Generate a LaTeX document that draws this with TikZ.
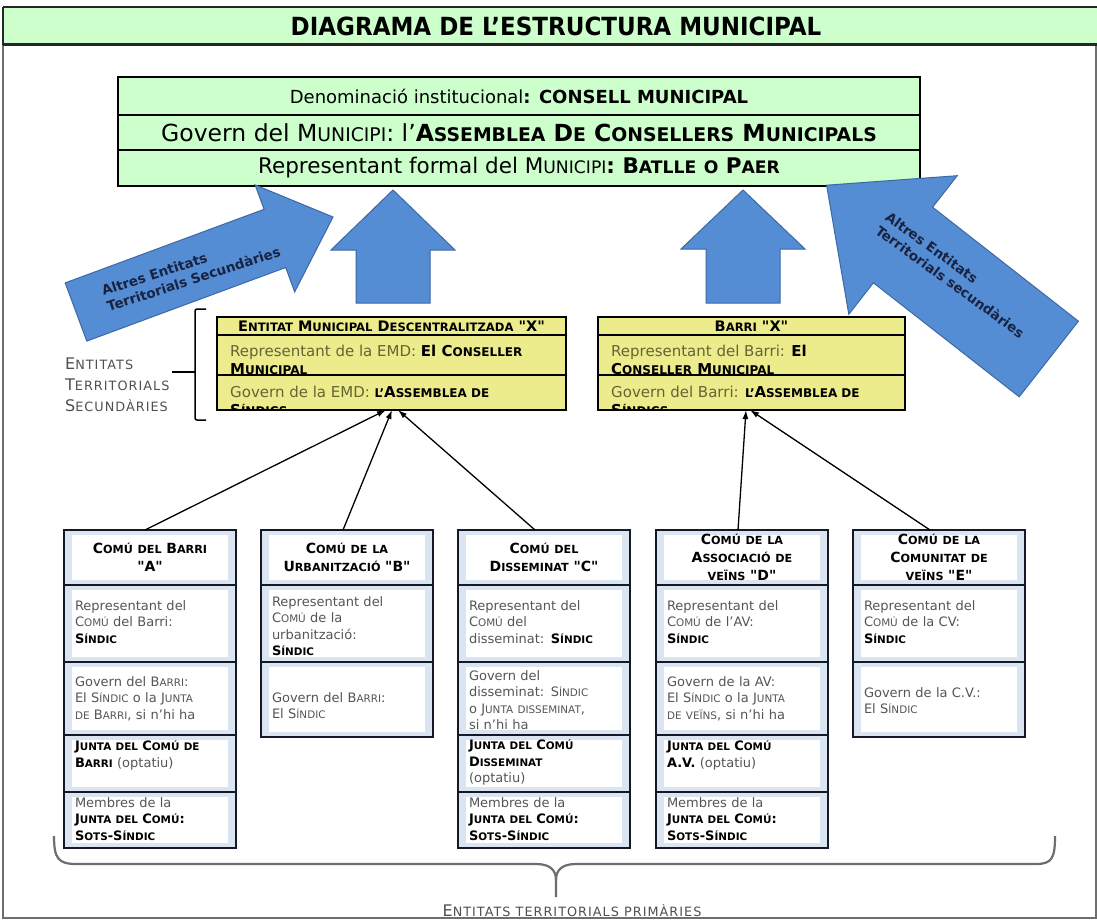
\documentclass[tikz,border=0pt]{standalone}
\usepackage{fontspec}
\setmainfont{DejaVu Sans}[Ligatures=TeXOff]
\newfontfamily\titlefont[FakeStretch=0.92]{DejaVu Sans}
\newfontfamily\widesc[LetterSpace=8]{DejaVu Sans}
\usetikzlibrary{arrows.meta}

% fake small capitals: \smc{ABC} sets capitals at 80% of the current size,
% \SC{WORD} keeps the first letter full size
\makeatletter
\newdimen\scdim
\newcommand\smc[1]{{\scdim=\f@size pt\relax\scdim=0.8\scdim
  \fontsize{\strip@pt\scdim}{\f@baselineskip}\selectfont #1}}
\def\SC#1{\sc@word#1\relax}
\def\sc@word#1#2\relax{#1\smc{#2}}
\makeatother
\newcommand\bsc[1]{\textbf{\color{black}#1}}

\definecolor{hdrgreen}{RGB}{204,255,204}
\definecolor{boxgreen}{RGB}{204,255,204}
\definecolor{arrowblue}{RGB}{84,141,212}
\definecolor{arrowedge}{RGB}{60,104,165}
\definecolor{ebox}{RGB}{236,236,140}
\definecolor{etext}{RGB}{100,100,55}
\definecolor{cellbg}{RGB}{219,229,241}
\definecolor{cellborder}{RGB}{20,25,40}
\definecolor{celltext}{RGB}{85,85,85}
\definecolor{navy}{RGB}{25,35,65}
\definecolor{labelgray}{RGB}{80,80,80}
\definecolor{framegray}{RGB}{110,110,110}

% one table cell of a primary entity column:
% #1 name, #2 left x, #3 top y, #4 bottom y, #5 text offset, #6 text style, #7 text
\newcommand\ccell[7]{%
  \node[cellframe, minimum height={(#4-#3)*1pt}, anchor=north west] (#1) at (#2,#3) {};
  \fill[white] ([xshift=8pt,yshift=-5pt]#1.north west) rectangle ([xshift=-8pt,yshift=5pt]#1.south east);
  \begin{scope}
    \clip ([xshift=1pt,yshift=-1pt]#1.north west) rectangle ([xshift=-1pt,yshift=1pt]#1.south east);
    \node[#6] (#1-t) at ([yshift=-#5pt]#1.north) {#7};
  \end{scope}
  \draw[cellline] (#1.north west) rectangle (#1.south east);}

\begin{document}
\begin{tikzpicture}[x=1pt,y=-1pt,
  greenrow/.style={draw=black, line width=1.5pt, fill=boxgreen, minimum width=802pt, inner sep=0pt, outer sep=0pt},
  yrow/.style={draw=black, line width=1.5pt, fill=ebox, inner sep=0pt, outer sep=0pt, anchor=north west},
  ytext/.style={anchor=north west, align=left, inner sep=0pt, font=\fontsize{15}{18}\selectfont, text=etext},
  yhead/.style={font=\bfseries\fontsize{14.5}{16}\selectfont},
  cellframe/.style={fill=cellbg, minimum width=172pt, inner sep=0pt, outer sep=0pt},
  cellline/.style={line width=1.6pt, draw=cellborder},
  chead/.style={anchor=center, text width=162pt, align=center, font=\bfseries\fontsize{14}{18}\selectfont, text=black, inner sep=0pt},
  cbody/.style={anchor=north, text width=150pt, align=left, font=\fontsize{13}{16.5}\selectfont, text=celltext, inner sep=0pt},
  conn/.style={line width=1.3pt, -{Latex[length=9pt,width=6pt]}},
  bluearrow/.style={fill=arrowblue, draw=arrowedge, line width=1pt, line join=miter},
  arrowtext/.style={font=\bfseries\fontsize{13.5}{17}\selectfont, text=navy, align=left, inner sep=0pt},
  sclabel/.style={font=\widesc\fontsize{16}{21}\selectfont, text=labelgray, align=left, inner sep=0pt},
]
\useasboundingbox (0,0) rectangle (1097,920);
\fill[white] (0,0) rectangle (1097,920);

% page frame and title bar
\draw[framegray, line width=1.5pt] (3,45) -- (3,918) -- (1096,918) -- (1096,45);
\fill[hdrgreen] (3,7) rectangle (1097,45);
\draw[black!85, line width=2.5pt] (3,7) -- (1097,7);
\draw[black!85, line width=3pt] (3,45) -- (1097,45);
\draw[black!85, line width=1.5pt] (3,7) -- (3,45);
\node[font=\titlefont\bfseries\fontsize{25}{28}\selectfont] (title) at (556,26) {DIAGRAMA DE L’ESTRUCTURA MUNICIPAL};

% municipal council
\node[greenrow, minimum height=38pt] (g1) at (519,96)
  {\fontsize{18}{22}\selectfont Denominació institucional\textbf{: CONSELL MUNICIPAL}};
\node[greenrow, minimum height=35pt] (g2) at (519,132.5)
  {\fontsize{23.5}{27}\selectfont Govern del \SC{MUNICIPI}: l’\textbf{\SC{ASSEMBLEA} \SC{DE} \SC{CONSELLERS} \SC{MUNICIPALS}}};
\node[greenrow, minimum height=36pt] (g3) at (519,168)
  {\fontsize{21.5}{25}\selectfont Representant formal del \SC{MUNICIPI}\textbf{: \SC{BATLLE} \smc{O} \SC{PAER}}};

% block arrows
\filldraw[bluearrow] (65.2,282.9) -- (264.1,209.3) -- (255.1,184.9) -- (333,217)
  -- (294.7,291.9) -- (285.7,267.5) -- (86.8,341.1) -- cycle;
\node[arrowtext, rotate=18] (arL) at (191,271) {Altres Entitats\\Territorials Secundàries};

\filldraw[bluearrow] (393,190) -- (455,250) -- (430,250) -- (430,303) -- (356,303) -- (356,250) -- (331,250) -- cycle;
\filldraw[bluearrow] (743,190) -- (805,249) -- (780,249) -- (780,303) -- (706,303) -- (706,249) -- (681,249) -- cycle;

\filldraw[bluearrow] (826.6,185.2) -- (957.2,175.7) -- (932.6,207.2) -- (1078.4,321.2)
  -- (1019.2,396.8) -- (873.4,282.8) -- (848.8,314.3) -- cycle;
\node[arrowtext, rotate=-36] (arR) at (955,275) {Altres Entitats\\Territorials secundàries};

% secondary entities
\node[yrow, yhead, minimum width=349pt, minimum height=18pt] (eL1) at (217,317)
  {\SC{ENTITAT} \SC{MUNICIPAL} \SC{DESCENTRALITZADA} "X"};
\node[yrow, minimum width=349pt, minimum height=40pt] (eL2) at (217,335) {};
\node[yrow, minimum width=349pt, minimum height=35pt] (eL3) at (217,375) {};
\begin{scope}
  \clip (eL2.north west) rectangle (eL3.south east);
  \node[ytext] (eL2t) at ([xshift=13pt,yshift=-10pt]eL2.north west)
    {Representant de la EMD: \bsc{El \SC{CONSELLER}}\\\bsc{\SC{MUNICIPAL}}};
  \node[ytext] (eL3t) at ([xshift=13pt,yshift=-11pt]eL3.north west)
    {Govern de la EMD: \bsc{\smc{L’}A\smc{SSEMBLEA DE}}\\\bsc{\SC{SÍNDICS}}};
\end{scope}
\draw[black, line width=1.5pt] (eL2.north west) rectangle (eL3.south east);
\draw[black, line width=1.5pt] (eL3.north west) -- (eL3.north east);

\node[yrow, yhead, minimum width=307pt, minimum height=18pt] (eR1) at (598,317)
  {\SC{BARRI} "X"};
\node[yrow, minimum width=307pt, minimum height=40pt] (eR2) at (598,335) {};
\node[yrow, minimum width=307pt, minimum height=35pt] (eR3) at (598,375) {};
\begin{scope}
  \clip (eR2.north west) rectangle (eR3.south east);
  \node[ytext] (eR2t) at ([xshift=13pt,yshift=-10pt]eR2.north west)
    {Representant del Barri: \bsc{El}\\\bsc{\SC{CONSELLER} \SC{MUNICIPAL}}};
  \node[ytext] (eR3t) at ([xshift=13pt,yshift=-11pt]eR3.north west)
    {Govern del Barri: \bsc{\smc{L’}A\smc{SSEMBLEA DE}}\\\bsc{\SC{SÍNDICS}}};
\end{scope}
\draw[black, line width=1.5pt] (eR2.north west) rectangle (eR3.south east);
\draw[black, line width=1.5pt] (eR3.north west) -- (eR3.north east);

% bracket and label of the secondary entities
\draw[black, line width=1.5pt, rounded corners=2pt] (206,309) -- (195,309) -- (195,420) -- (206,420);
\draw[black, line width=2pt] (195,372) -- (172,372);
\node[sclabel, anchor=north west] (lblsec) at (65,357.5)
  {E\smc{NTITATS}\\T\smc{ERRITORIALS}\\S\smc{ECUNDÀRIES}};

% primary entities: column A
\ccell{cA1}{64}{530}{585}{27.5}{chead}{\SC{COMÚ} \smc{DEL} \SC{BARRI}\\"A"}
\ccell{cA2}{64}{585}{662}{15}{cbody}{Representant del\\\SC{COMÚ} del Barri:\\\bsc{\SC{SÍNDIC}}}
\ccell{cA3}{64}{662}{735}{14}{cbody}{Govern del \SC{BARRI}:\\El \SC{SÍNDIC} o la \SC{JUNTA}\\\smc{DE} \SC{BARRI}, si n’hi ha}
\ccell{cA4}{64}{735}{792}{6}{cbody}{\bsc{\SC{JUNTA} \smc{DEL} \SC{COMÚ} \smc{DE}}\\\bsc{\SC{BARRI}} (optatiu)}
\ccell{cA5}{64}{792}{848}{5}{cbody}{Membres de la\\\bsc{\SC{JUNTA} \smc{DEL} \SC{COMÚ}:}\\\bsc{\SC{SOTS}-\SC{SÍNDIC}}}

% column B
\ccell{cB1}{261}{530}{585}{27.5}{chead}{\SC{COMÚ} \smc{DE LA}\\\SC{URBANITZACIÓ} "B"}
\ccell{cB2}{261}{585}{662}{11}{cbody}{Representant del\\\SC{COMÚ} de la\\urbanització:\\\bsc{\SC{SÍNDIC}}}
\ccell{cB3}{261}{662}{737}{30}{cbody}{Govern del \SC{BARRI}:\\El \SC{SÍNDIC}}

% column C
\ccell{cC1}{458}{530}{585}{27.5}{chead}{\SC{COMÚ} \smc{DEL}\\\SC{DISSEMINAT} "C"}
\ccell{cC2}{458}{585}{662}{15}{cbody}{Representant del\\\SC{COMÚ} del\\disseminat: \bsc{\SC{SÍNDIC}}}
\ccell{cC3}{458}{662}{735}{8}{cbody}{Govern del\\disseminat: \SC{SÍNDIC}\\o \SC{JUNTA} \smc{DISSEMINAT},\\si n’hi ha}
\ccell{cC4}{458}{735}{792}{5}{cbody}{\bsc{\SC{JUNTA} \smc{DEL} \SC{COMÚ}}\\\bsc{\SC{DISSEMINAT}}\\(optatiu)}
\ccell{cC5}{458}{792}{848}{5}{cbody}{Membres de la\\\bsc{\SC{JUNTA} \smc{DEL} \SC{COMÚ}:}\\\bsc{\SC{SOTS}-\SC{SÍNDIC}}}

% column D
\ccell{cD1}{656}{530}{585}{27.5}{chead}{\SC{COMÚ} \smc{DE LA}\\\SC{ASSOCIACIÓ} \smc{DE}\\\smc{VEÏNS} "D"}
\ccell{cD2}{656}{585}{662}{15}{cbody}{Representant del\\\SC{COMÚ} de l’AV:\\\bsc{\SC{SÍNDIC}}}
\ccell{cD3}{656}{662}{735}{14}{cbody}{Govern de la AV:\\El \SC{SÍNDIC} o la \SC{JUNTA}\\\smc{DE VEÏNS}, si n’hi ha}
\ccell{cD4}{656}{735}{792}{6}{cbody}{\bsc{\SC{JUNTA} \smc{DEL} \SC{COMÚ}}\\\bsc{A.V.} (optatiu)}
\ccell{cD5}{656}{792}{848}{5}{cbody}{Membres de la\\\bsc{\SC{JUNTA} \smc{DEL} \SC{COMÚ}:}\\\bsc{\SC{SOTS}-\SC{SÍNDIC}}}

% column E
\ccell{cE1}{853}{530}{585}{27.5}{chead}{\SC{COMÚ} \smc{DE LA}\\\SC{COMUNITAT} \smc{DE}\\\smc{VEÏNS} "E"}
\ccell{cE2}{853}{585}{662}{15}{cbody}{Representant del\\\SC{COMÚ} de la CV:\\\bsc{\SC{SÍNDIC}}}
\ccell{cE3}{853}{662}{737}{25}{cbody}{Govern de la C.V.:\\El \SC{SÍNDIC}}

% links from the primary to the secondary entities
\draw[conn] ([xshift=-5pt]cA1.north) -- ([xshift=-5.5pt]eL3.south);
\draw[conn] ([xshift=-4pt]cB1.north) -- ([xshift=0.5pt]eL3.south);
\draw[conn] ([xshift=-9pt]cC1.north) -- ([xshift=6.5pt]eL3.south);
\draw[conn] ([xshift=-4pt]cD1.north) -- ([xshift=-5.5pt]eR3.south);
\draw[conn] ([xshift=-9pt]cE1.north) -- ([xshift=-1.5pt]eR3.south);

% brace under the primary entities
\draw[framegray, line width=2.2pt]
  (54,836) .. controls (54,858) and (58,864) .. (76,864) -- (536,864)
  .. controls (550,864) and (556,870) .. (556,880) -- (556,897);
\draw[framegray, line width=2.2pt]
  (556,880) .. controls (556,870) and (562,864) .. (576,864) -- (1036,864)
  .. controls (1052,864) and (1055,858) .. (1055,836);
\node[sclabel, anchor=base] (lblprim) at (572,916) {E\smc{NTITATS TERRITORIALS PRIMÀRIES}};
\end{tikzpicture}
\end{document}
